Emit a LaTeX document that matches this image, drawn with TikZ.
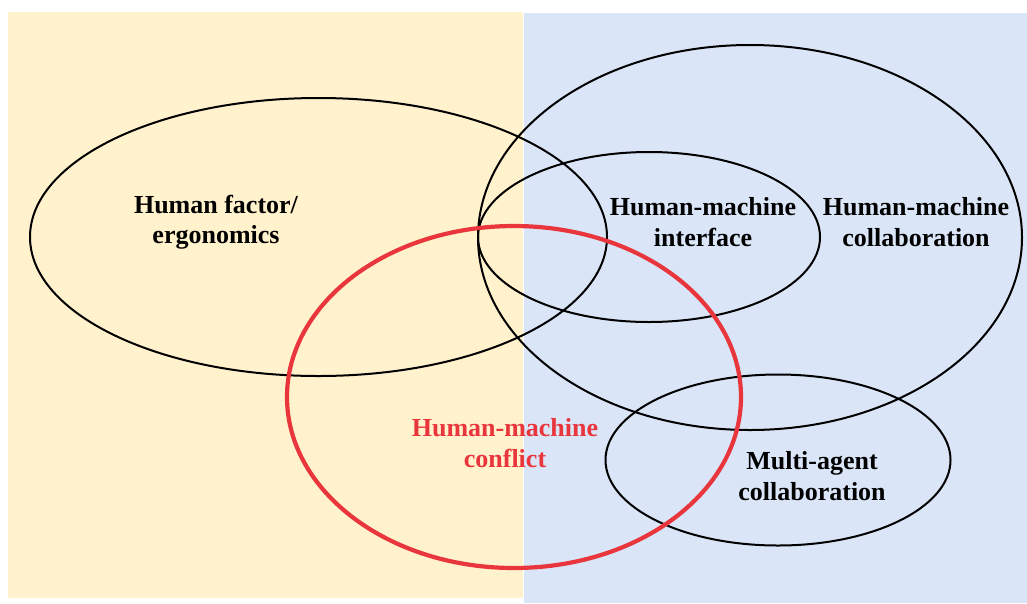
\documentclass[tikz,border=0pt]{standalone}
\usepackage{fontspec}
\setmainfont{Liberation Serif}
\definecolor{leftbg}{HTML}{FFF2CC}
\definecolor{rightbg}{HTML}{DAE6F8}
\definecolor{conflictred}{HTML}{E8363C}
\begin{document}
\begin{tikzpicture}[x=1pt,y=-1pt,
  area/.style={draw=black,line width=2pt},
  conflict/.style={draw=conflictred,line width=4.2pt},
  lbl/.style={align=center,font=\fontsize{26}{30.5}\selectfont\bfseries,text=black},
  redlbl/.style={lbl,text=conflictred}]
\useasboundingbox (0,0) rectangle (1027,603);
% two background panels
\fill[leftbg] (8,12) rectangle (523,598);
\fill[rightbg] (524,13) rectangle (1027,603);
% topic areas
\draw[area] (318.5,237) ellipse [x radius=288.5, y radius=139];
\draw[area] (750,237.5) ellipse [x radius=272, y radius=192.5];
\draw[area] (649,237) ellipse [x radius=171, y radius=85];
\draw[area] (778,460) ellipse [x radius=172.5, y radius=85.5];
\draw[conflict] (514,397) ellipse [x radius=227, y radius=171];
% labels
\node[lbl] (hf) at (216,222) {Human factor/\\ergonomics};
\node[lbl] (hmi) at (703,222) {Human-machine\\interface};
\node[lbl] (hmc) at (916,222) {Human-machine\\collaboration};
\node[redlbl] (hmconf) at (505,443) {Human-machine\\conflict};
\node[lbl] (mac) at (812,476) {Multi-agent\\collaboration};
\end{tikzpicture}
\end{document}
